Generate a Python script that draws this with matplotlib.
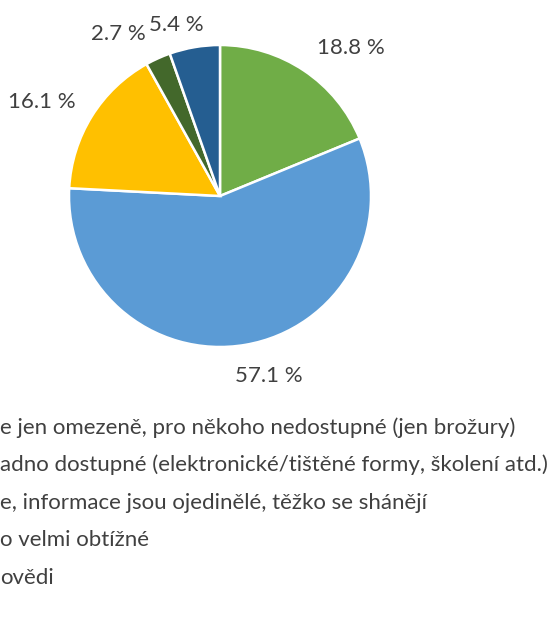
import matplotlib
matplotlib.use("Agg")
import matplotlib.pyplot as plt

# hodnoty v procentech (podíl odpovědí)
values = [18.8, 57.1, 16.1, 2.7, 5.4]
colors = ["#70AD47", "#5B9BD5", "#FFC000", "#43682B", "#255E91"]
pct_labels = ["18.8 %", "57.1 %", "16.1 %", "2.7 %", "5.4 %"]

# viditelná část legendy (levý okraj je oříznutý)
legend_texts = [
    "e jen omezeně, pro někoho nedostupné (jen brožury)",
    "adno dostupné (elektronické/tištěné formy, školení atd.)",
    "e, informace jsou ojedinělé, těžko se shánějí",
    "o velmi obtížné",
    "ovědi",
]

# pozice popisků v jednotkách poloměru
label_xy = [(0.87, 0.98), (0.32, -1.19), (-1.18, 0.62), (-0.67, 1.07), (-0.29, 1.13)]
legend_x = [0, 0, 0, 0, 0]  # px
legend_y = [428, 465, 503, 540, 578]  # px od shora

W, H = 550, 619
txt_color = "#404040"
font = "Lato"
fs = 16

fig = plt.figure(figsize=(W / 100, H / 100), dpi=100)
cx, cy, r = 220, 196, 151
ax = fig.add_axes([(cx - r) / W, (H - cy - r) / H, 2 * r / W, 2 * r / H])
ax.pie(values, colors=colors, startangle=90, counterclock=False, radius=1,
       wedgeprops=dict(edgecolor="white", linewidth=1.8))
ax.set_xlim(-1, 1)
ax.set_ylim(-1, 1)
ax.set_aspect("equal")
ax.axis("off")

for (x, y), lab in zip(label_xy, pct_labels):
    ax.text(x, y, lab, ha="center", va="center", fontsize=fs,
            color=txt_color, family=font, clip_on=False)

for x, y, t in zip(legend_x, legend_y, legend_texts):
    fig.text(x / W, 1 - y / H, t, ha="left", va="center", fontsize=fs,
             color=txt_color, family=font)

fig.savefig("out.png", dpi=100)
